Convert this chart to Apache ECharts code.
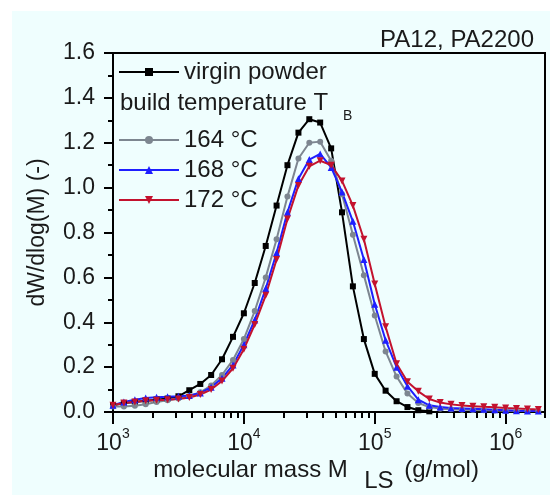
<!DOCTYPE html>
<html><head><meta charset="utf-8">
<script src="https://cdn.jsdelivr.net/npm/echarts@6/dist/echarts.min.js"></script>
<style>html,body{margin:0;padding:0;background:#fff}#c{width:559px;height:495px}</style>
</head><body><div id="c"></div>
<script>
// x positions: log10 of molecular mass M (g/mol)
const logM = [3.000,3.083,3.167,3.250,3.333,3.417,3.500,3.583,3.667,3.750,
              3.833,3.917,4.000,4.083,4.167,4.250,4.333,4.417,4.500,4.583,
              4.667,4.750,4.833,4.917,5.000,5.083,5.167,5.250,5.333,5.417,
              5.500,5.583,5.667,5.750,5.833,5.917,6.000,6.083,6.167,6.250];
const virgin = [0.03,0.04,0.045,0.05,0.055,0.06,0.07,0.097,0.125,0.165,
                0.235,0.335,0.44,0.575,0.74,0.92,1.10,1.245,1.305,1.29,
                1.175,0.89,0.56,0.325,0.17,0.095,0.048,0.022,0.008,0.003];
const t164 = [0.025,0.025,0.028,0.035,0.045,0.052,0.06,0.07,0.088,0.118,
              0.165,0.232,0.325,0.45,0.60,0.77,0.96,1.13,1.20,1.205,
              1.12,0.97,0.79,0.61,0.43,0.27,0.158,0.082,0.04,0.022,
              0.015,0.012,0.01,0.009,0.008,0.007,0.006,0.005,0.004,0.004];
const t168 = [0.03,0.045,0.055,0.062,0.066,0.068,0.07,0.074,0.085,0.11,
              0.15,0.21,0.30,0.41,0.55,0.71,0.89,1.04,1.125,1.15,
              1.09,0.98,0.85,0.68,0.48,0.32,0.20,0.115,0.055,0.03,
              0.022,0.018,0.016,0.014,0.012,0.01,0.008,0.006,0.005,0.004];
const t172 = [0.03,0.04,0.045,0.05,0.052,0.055,0.058,0.065,0.078,0.10,
              0.138,0.195,0.28,0.39,0.52,0.68,0.86,1.01,1.095,1.12,
              1.10,1.03,0.92,0.77,0.57,0.38,0.215,0.135,0.092,0.058,
              0.042,0.034,0.029,0.026,0.023,0.021,0.018,0.016,0.013,0.011];
const seriesNames = ['virgin powder','164 °C','168 °C','172 °C'];
const xMajorExponents = [3,4,5,6];
const xMaxMass = 2e6;
const yMin = 0, yMax = 1.6, yStep = 0.2;

const F = "'Liberation Sans', Arial, sans-serif";
const TXT = '#1a1a1a';
const xMin = 3, xMax = Math.log10(xMaxMass);
const minorVals = [];
for (let e = 3; e <= 6; e++) for (let k = 2; k <= 9; k++) {
  const v = e + Math.log10(k); if (v <= xMax + 1e-9) minorVals.push(v);
}
function pairs(vals){ return vals.map((v,i)=>[logM[i], v]); }
const gridBox = {left:113, right:14, top:53, bottom:83, outerBoundsMode:'none', containLabel:false};

const chart = echarts.init(document.getElementById('c'), null, {renderer:'canvas'});
chart.setOption({
  animation:false,
  backgroundColor:'#ffffff',
  textStyle:{fontFamily:F},
  graphic:[
    {type:'rect', z:-100, silent:true, shape:{x:12,y:11,width:538,height:484}, style:{fill:'#effefe'}},
    {type:'text', left:120, top:91, style:{text:'build temperature T', font:'24px '+F, fill:TXT}},
    {type:'text', left:343, top:109, style:{text:'B', font:'14px '+F, fill:TXT}}
  ],
  title:{text:'PA12, PA2200', right:20, top:23, textStyle:{fontSize:24, fontWeight:'normal', color:TXT, fontFamily:F}},
  grid:[
    Object.assign({show:true, borderColor:'#000', borderWidth:2, backgroundColor:'transparent'}, gridBox),
    Object.assign({show:false}, gridBox)
  ],
  legend:[
    {data:[seriesNames[0]], left:118, top:60, padding:0, itemWidth:60, itemHeight:10, itemGap:8,
     textStyle:{fontSize:24, color:TXT, fontFamily:F}},
    {data:seriesNames.slice(1), orient:'vertical', left:118, top:128, padding:0, itemWidth:60, itemHeight:10, itemGap:6,
     textStyle:{fontSize:24, color:TXT, fontFamily:F}}
  ],
  xAxis:[
    {type:'value', gridIndex:0, min:xMin, max:xMax,
     name:'{a|molecular mass M  }{s|LS}{a| (g/mol)}', nameLocation:'middle', nameGap:46, nameMoveOverlap:false,
     nameTextStyle:{padding:[0,26,0,0], rich:{
       a:{fontSize:24, color:TXT, fontFamily:F, lineHeight:24, verticalAlign:'top'},
       s:{fontSize:24, color:TXT, fontFamily:F, lineHeight:35, verticalAlign:'bottom', padding:[0,4,0,3]}}},
     splitLine:{show:false},
     axisLine:{lineStyle:{color:'#000', width:2}},
     axisTick:{customValues:xMajorExponents, length:12, lineStyle:{color:'#000', width:2}},
     axisLabel:{customValues:xMajorExponents, margin:15,
       formatter:v=>'{b|10}{s|'+Math.round(v)+'}',
       rich:{b:{fontSize:23, color:TXT, fontFamily:F, lineHeight:28, verticalAlign:'bottom'},
             s:{fontSize:14, color:TXT, fontFamily:F, lineHeight:14, verticalAlign:'top'}}}},
    {type:'value', gridIndex:1, min:xMin, max:xMax, splitLine:{show:false},
     axisLine:{show:false}, axisLabel:{show:false},
     axisTick:{customValues:minorVals, length:6, lineStyle:{color:'#000', width:2}}}
  ],
  yAxis:[
    {type:'value', gridIndex:0, min:yMin, max:yMax, interval:yStep,
     name:'dW/dlog(M) (-)', nameLocation:'middle', nameGap:64,
     nameTextStyle:{fontSize:23, color:TXT, fontFamily:F},
     splitLine:{show:false},
     axisLine:{show:true, lineStyle:{color:'#000', width:2}},
     axisTick:{show:true, length:9, lineStyle:{color:'#000', width:2}},
     minorTick:{show:true, splitNumber:2, length:5, lineStyle:{color:'#000', width:2}},
     axisLabel:{fontSize:23, color:TXT, fontFamily:F, margin:18, formatter:v=>v.toFixed(1)}},
    {type:'value', gridIndex:1, min:yMin, max:yMax, show:false}
  ],
  series:[
    {name:seriesNames[0], type:'line', data:pairs(virgin), symbol:'rect', symbolSize:6,
     itemStyle:{color:'#000000'}, lineStyle:{color:'#000000', width:2}},
    {name:seriesNames[1], type:'line', data:pairs(t164), symbol:'circle', symbolSize:6,
     itemStyle:{color:'#7d8690'}, lineStyle:{color:'#7d8690', width:2}},
    {name:seriesNames[2], type:'line', data:pairs(t168), symbol:'triangle', symbolSize:7,
     itemStyle:{color:'#1e1eff'}, lineStyle:{color:'#1e1eff', width:2}},
    {name:seriesNames[3], type:'line', data:pairs(t172), symbol:'triangle', symbolRotate:180, symbolSize:7,
     itemStyle:{color:'#c3122e'}, lineStyle:{color:'#c3122e', width:2}}
  ]
});
</script></body></html>
